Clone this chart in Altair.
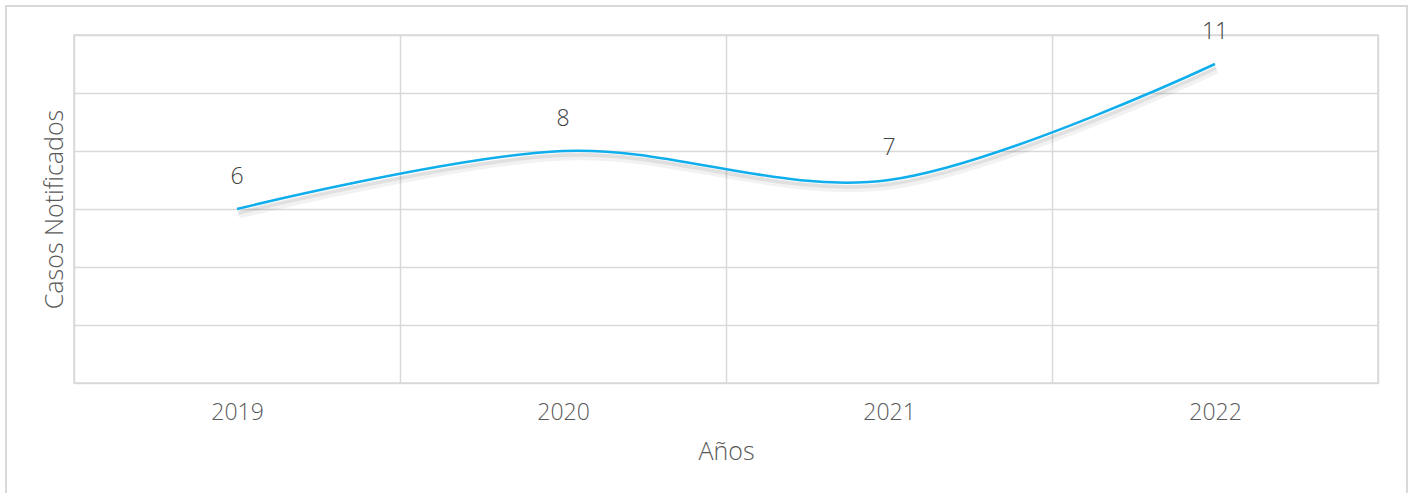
import altair as alt
import pandas as pd

# Casos notificados por año
anios = ["2019", "2020", "2021", "2022"]
casos = [6, 8, 7, 11]

df = pd.DataFrame({"anio": anios, "casos": casos})

W, H = 1304, 348
FONT = "Open Sans"
GRID = "#d9d9d9"

x_enc = alt.X(
    "anio:N",
    bandPosition=0.5,
    scale=alt.Scale(type="band", paddingInner=0, paddingOuter=0),
    axis=alt.Axis(
        title="Años",
        labelAngle=0,
        tickBand="extent",
        grid=True,
        gridColor=GRID,
        gridWidth=1.5,
        domain=False,
        ticks=False,
        labelPadding=18,
        labelBaseline="top",
        titlePadding=15,
    ),
)
y_enc = alt.Y(
    "casos:Q",
    scale=alt.Scale(domain=[0, 12], nice=False),
    axis=alt.Axis(
        title="Casos Notificados",
        values=[0, 2, 4, 6, 8, 10, 12],
        labels=False,
        ticks=False,
        domain=False,
        grid=True,
        gridColor=GRID,
        gridWidth=1.5,
        titlePadding=7,
    ),
)

base = alt.Chart(df).encode(x=x_enc, y=y_enc)

# outer frame around the whole figure
frame = alt.Chart(df).mark_rect(
    fill=None, stroke="#d9d9d9", strokeWidth=1.5
).encode(
    x=alt.value(-68), x2=alt.value(W + 29),
    y=alt.value(-29), y2=alt.value(H + 140),
)

# soft drop shadow beneath the curve
shadow = base.mark_line(
    interpolate="cardinal", color="#000000", strokeWidth=7,
    opacity=0.05, xOffset=2, yOffset=6,
)
shadow2 = base.mark_line(
    interpolate="cardinal", color="#000000", strokeWidth=4,
    opacity=0.07, xOffset=1, yOffset=4,
)
line = base.mark_line(interpolate="cardinal", color="#10AEEC", strokeWidth=2.5)
labels = base.mark_text(
    dy=-32, baseline="middle", font=FONT, fontSize=23, fontWeight=300,
    color="#404040",
).encode(text="casos:Q")

chart = (
    alt.layer(frame, shadow, shadow2, line, labels)
    .properties(
        width=W,
        height=H,
        autosize=alt.AutoSizeParams(type="none"),
        padding={"left": 74, "top": 35, "right": 32, "bottom": 110},
        background="white",
    )
    .configure_view(stroke=GRID, strokeWidth=1.5)
    .configure_axis(
        labelFont=FONT,
        titleFont=FONT,
        labelFontSize=23,
        titleFontSize=25,
        labelFontWeight=300,
        titleFontWeight=300,
        labelColor="#595959",
        titleColor="#595959",
    )
)

chart.save("out.html", embed_options={"renderer": "svg", "actions": False})
